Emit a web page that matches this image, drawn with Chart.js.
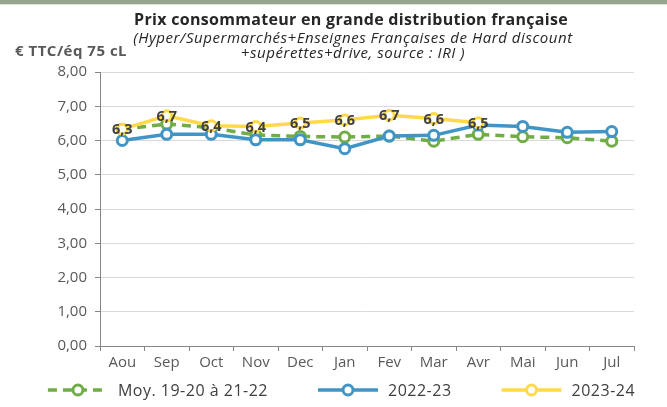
<!DOCTYPE html>
<html><head><meta charset="utf-8">
<script src="https://cdn.jsdelivr.net/npm/chart.js@4"></script>
<style>
body{margin:0;background:#fff;}
#wrap{position:relative;width:667px;height:407px;overflow:hidden;font-family:'Open Sans',sans-serif;}
canvas{position:absolute;left:0;top:0;}
.band{position:absolute;left:0;top:0;width:667px;height:4px;background:#95a58e;}
.band2{position:absolute;left:0;top:4px;width:667px;height:1px;background:#dde4da;}
.t{position:absolute;white-space:nowrap;text-align:center;}
</style></head><body>
<div id="wrap">
<canvas id="c" width="667" height="407"></canvas>
<div class="band"></div><div class="band2"></div>
<div class="t" style="left:0;width:702px;top:9px;font-weight:700;font-size:16px;letter-spacing:0.3px;color:#262626;line-height:20px">Prix consommateur en grande distribution française</div>
<div class="t" style="left:0;width:706px;top:30px;font-style:italic;font-size:15px;letter-spacing:0.55px;color:#262626;line-height:15px">(Hyper/Supermarchés+Enseignes Françaises de Hard discount<br>+supérettes+drive, source : IRI )</div>
<div class="t" style="left:15px;top:41px;font-weight:700;font-size:15px;letter-spacing:0.5px;color:#595959;line-height:18px">€ TTC/éq 75 cL</div>
</div>
<script>
const months = ['Aou','Sep','Oct','Nov','Dec','Jan','Fev','Mar','Avr','Mai','Jun','Jul'];
const moy1922 = [6.33, 6.48, 6.37, 6.16, 6.12, 6.10, 6.13, 5.98, 6.18, 6.11, 6.08, 5.98];
const s2022_23 = [6.00, 6.18, 6.18, 6.02, 6.02, 5.76, 6.13, 6.15, 6.45, 6.41, 6.24, 6.26];
const s2023_24 = [6.33, 6.72, 6.43, 6.41, 6.51, 6.60, 6.74, 6.64, 6.52, null, null, null];
const seriesNames = ['Moy. 19-20 à 21-22', '2022-23', '2023-24'];
const yTicks = [0,1,2,3,4,5,6,7,8];

const GREEN='#70ad47', BLUE='#4095c6', YELLOW='#ffd94a';
const FONT="'Open Sans', sans-serif";

const valueLabels = {
  id:'valueLabels',
  afterDatasetsDraw(chart){
    const ctx=chart.ctx;
    const idx=2;
    const meta=chart.getDatasetMeta(idx);
    const data=chart.data.datasets[idx].data;
    ctx.save();
    ctx.font="bold 14.5px "+FONT;
    ctx.fillStyle='#404040';
    ctx.textAlign='center';
    ctx.textBaseline='middle';
    meta.data.forEach((p,i)=>{
      if(data[i]==null) return;
      ctx.fillText(data[i].toFixed(1).replace('.',','), p.x, p.y+1);
    });
    ctx.restore();
  }
};

const customLegend = {
  id:'customLegend',
  afterDraw(chart){
    const ctx=chart.ctx;
    ctx.save();
    ctx.font="16px "+FONT;
    try{ctx.letterSpacing='0.5px';}catch(e){}
    const lineLen=60, gap=10, space=50;
    const items=chart.data.datasets.map(d=>({d, w:ctx.measureText(d.label).width}));
    let total=items.reduce((a,it)=>a+lineLen+gap+it.w,0)+space*(items.length-1);
    let x=341.5-total/2;
    const y=390;
    items.forEach(it=>{
      const d=it.d;
      ctx.strokeStyle=d.borderColor;
      ctx.lineWidth=d.borderWidth;
      ctx.setLineDash(d.borderDash||[]);
      ctx.beginPath();ctx.moveTo(x,y);ctx.lineTo(x+lineLen,y);ctx.stroke();
      ctx.setLineDash([]);
      ctx.beginPath();ctx.arc(x+lineLen/2,y,d.pointRadius,0,Math.PI*2);
      ctx.fillStyle='#fff';ctx.fill();
      ctx.lineWidth=d.pointBorderWidth;ctx.strokeStyle=d.borderColor;ctx.stroke();
      ctx.fillStyle='#404040';
      ctx.textAlign='left';ctx.textBaseline='middle';
      ctx.fillText(d.label, x+lineLen+gap, y+1);
      x+=lineLen+gap+it.w+space;
    });
    ctx.restore();
  }
};

function ds(label,data,color,order,dash){
  return {label,data,borderColor:color,backgroundColor:'#fff',borderWidth:3.5,
    borderDash:dash||[],pointRadius:5,pointBorderWidth:3,pointBackgroundColor:'#fff',
    pointBorderColor:color,pointHoverRadius:5,tension:0,order,spanGaps:false};
}

new Chart(document.getElementById('c'),{
  type:'line',
  data:{labels:months,datasets:[
    ds(seriesNames[0],moy1922,GREEN,2,[9,6]),
    ds(seriesNames[1],s2022_23,BLUE,1),
    ds(seriesNames[2],s2023_24,YELLOW,0)
  ]},
  options:{
    responsive:false,animation:false,devicePixelRatio:1,
    layout:{padding:{left:49,right:33,top:72,bottom:0}},
    plugins:{legend:{display:false},tooltip:{enabled:false},title:{display:false}},
    scales:{
      x:{
        offset:true,
        grid:{offset:true,drawOnChartArea:false,drawTicks:true,tickLength:5,tickColor:'#868686',color:'#868686'},
        border:{color:'#868686',width:1},
        ticks:{color:'#595959',font:{family:FONT,size:15},padding:3,maxRotation:0},
        afterFit(s){s.height=61;}
      },
      y:{
        min:0,max:8,
        afterBuildTicks(s){s.ticks=yTicks.map(v=>({value:v}));},
        grid:{color:'#d9d9d9',lineWidth:1,tickLength:5,tickColor:'#868686'},
        border:{color:'#868686',width:1},
        ticks:{color:'#595959',font:{family:FONT,size:15},padding:8,
          callback:v=>v.toFixed(2).replace('.',',')},
        afterFit(s){s.width=51;}
      }
    }
  },
  plugins:[valueLabels,customLegend]
});
</script>
</body></html>
